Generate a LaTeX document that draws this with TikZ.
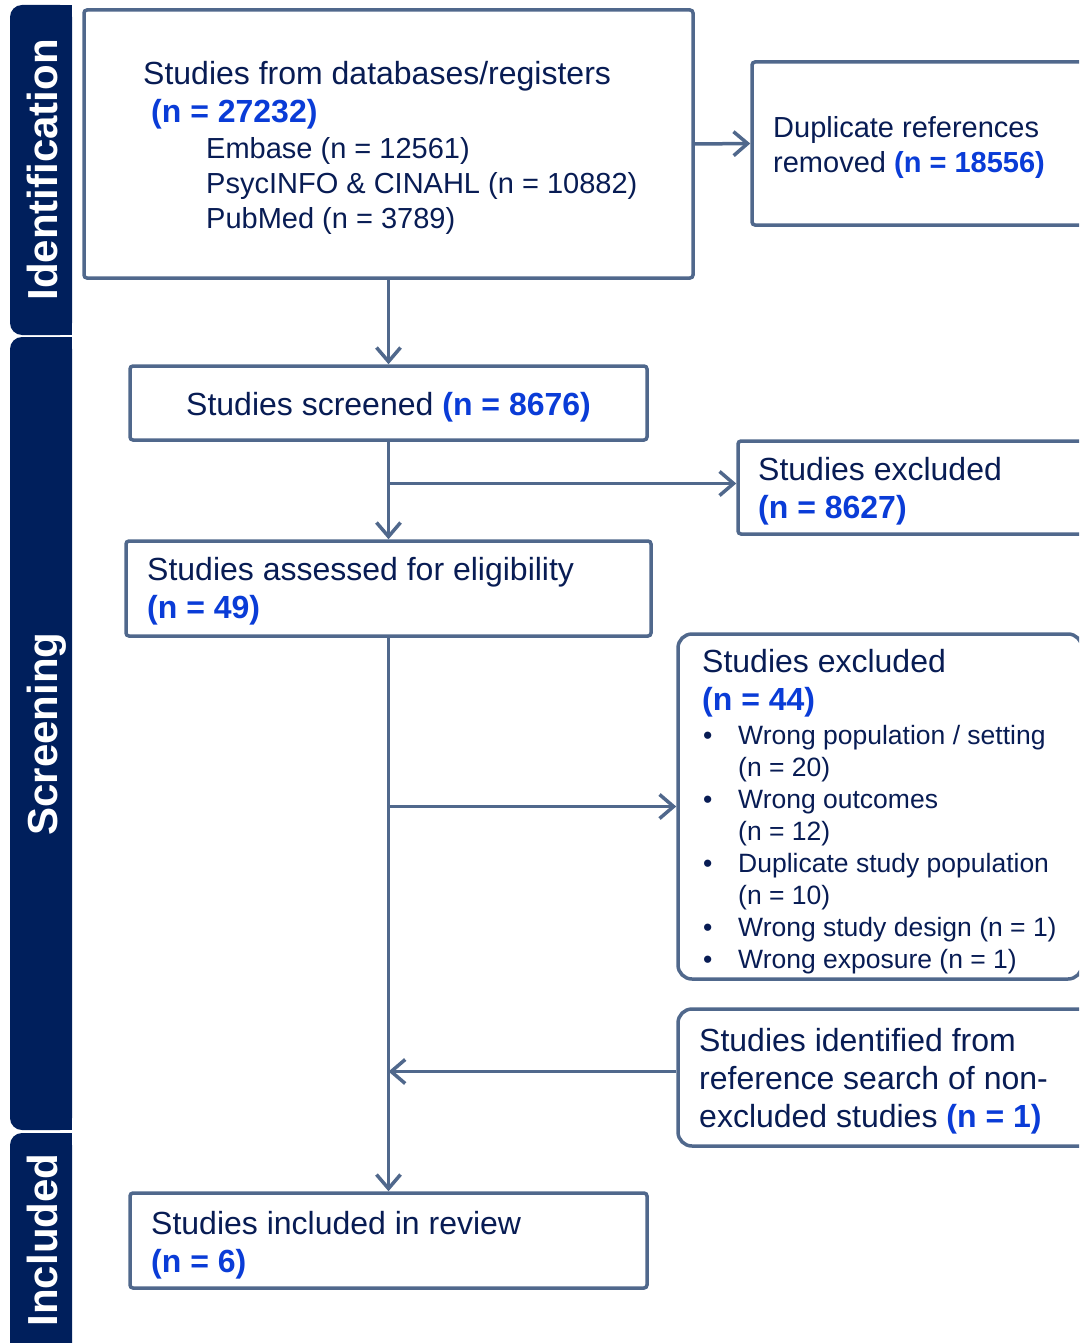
\documentclass[tikz,border=0pt]{standalone}
\usepackage{fontspec}
\setmainfont{Liberation Sans}
\usetikzlibrary{arrows.meta}

\definecolor{navy}{RGB}{8,28,84}
\definecolor{nblue}{RGB}{10,60,215}
\definecolor{boxline}{RGB}{80,104,140}
\definecolor{band}{RGB}{0,31,92}

\newcommand{\nval}[1]{{\bfseries\color{nblue}#1}}

\tikzset{
  box/.style={draw=boxline, line width=3.5pt, rounded corners=3pt, inner sep=0pt, fill=white},
  rbox/.style={box, rounded corners=14pt},
  txt/.style={text=navy, align=left, inner sep=0pt, anchor=north west, font=\fontsize{32}{38}\selectfont},
  smalltxt/.style={txt, font=\fontsize{29}{35}\selectfont},
  listtxt/.style={txt, font=\fontsize{26.5}{32}\selectfont},
  bandtxt/.style={text=white, font=\fontsize{42}{42}\selectfont\bfseries, rotate=90, anchor=base, inner sep=0pt},
  arr/.style={draw=boxline, line width=3.5pt, -{Straight Barb[length=14pt,width=24pt]}}
}

\begin{document}
\begin{tikzpicture}[x=1pt, y=-1pt]
\useasboundingbox (0,0) rectangle (1079,1343);
\clip (0,0) rectangle (1079,1343);

% side bands
\fill[band, rounded corners=12pt] (10,5) rectangle (72,335);
\fill[band] (40,5) rectangle (72,335);
\fill[band, rounded corners=12pt] (10,337) rectangle (72,1130);
\fill[band] (40,337) rectangle (72,1130);
\fill[band, rounded corners=12pt] (10,1133) rectangle (72,1370);
\fill[band] (40,1133) rectangle (72,1370);
\node[bandtxt] (idlab) at (57,170) {Identification};
\node[bandtxt] (scrlab) at (57,734) {Screening};
\node[bandtxt] (incllab) at (57,1240) {Included};

% boxes
\node[box, minimum width=609, minimum height=268] (src) at (388.5,144) {};
\node[box, minimum width=343, minimum height=163] (dup) at (923.5,143.5) {};
\node[box, minimum width=517, minimum height=74] (scr) at (388.5,403) {};
\node[box, minimum width=355, minimum height=93] (exa) at (915.5,487.5) {};
\node[box, minimum width=525, minimum height=95] (elig) at (388.5,588.5) {};
\node[rbox, minimum width=404, minimum height=345] (exb) at (880,806.5) {};
\node[rbox, minimum width=430, minimum height=137] (ident) at (893,1077.5) {};
\node[box, minimum width=517, minimum height=95] (incl) at (388.5,1240.5) {};

% texts
\node[txt] (srctitle) at (143,61) {Studies from databases/registers\\\hspace*{8pt}\nval{(n = 27232)}};
\node[smalltxt] (srclist) at (206,137) {Embase (n = 12561)\\PsycINFO \& CINAHL (n = 10882)\\PubMed (n = 3789)};
\node[smalltxt] (duptxt) at (773,116) {Duplicate references\\removed \nval{(n = 18556)}};
\node[txt] (scrtxt) at (186,392) {Studies screened \nval{(n = 8676)}};
\node[txt] (exatxt) at (758,457) {Studies excluded\\\nval{(n = 8627)}};
\node[txt] (eligtxt) at (147,557) {Studies assessed for eligibility\\\nval{(n = 49)}};
\node[txt] (exbtitle) at (702,649) {Studies excluded\\\nval{(n = 44)}};
\node[listtxt] (exblist) at (703,725) {\makebox[35pt][l]{\textbullet}Wrong population / setting\\
  \hspace*{35pt}(n = 20)\\
  \makebox[35pt][l]{\textbullet}Wrong outcomes\\
  \hspace*{35pt}(n = 12)\\
  \makebox[35pt][l]{\textbullet}Duplicate study population\\
  \hspace*{35pt}(n = 10)\\
  \makebox[35pt][l]{\textbullet}Wrong study design (n = 1)\\
  \makebox[35pt][l]{\textbullet}Wrong exposure (n = 1)};
\node[txt] (identtxt) at (699,1028) {Studies identified from\\reference search of non-\\excluded studies \nval{(n = 1)}};
\node[txt] (incltxt) at (151,1211) {Studies included in review\\\nval{(n = 6)}};

% connectors
\coordinate (exain) at ([yshift=4pt]exa.west);
\coordinate (refin) at ([yshift=6pt]ident.west);
\draw[arr] (src) -- (scr);
\draw[arr] (src.east) -- (dup.west);
\draw[arr] (scr) -- (elig);
\draw[arr] (scr.south |- exain) -- (exain);
\draw[arr] (elig) -- (incl);
\draw[arr] (elig.south |- exb.west) -- (exb.west);
\draw[arr] (refin) -- (elig.south |- refin);
\end{tikzpicture}
\end{document}
